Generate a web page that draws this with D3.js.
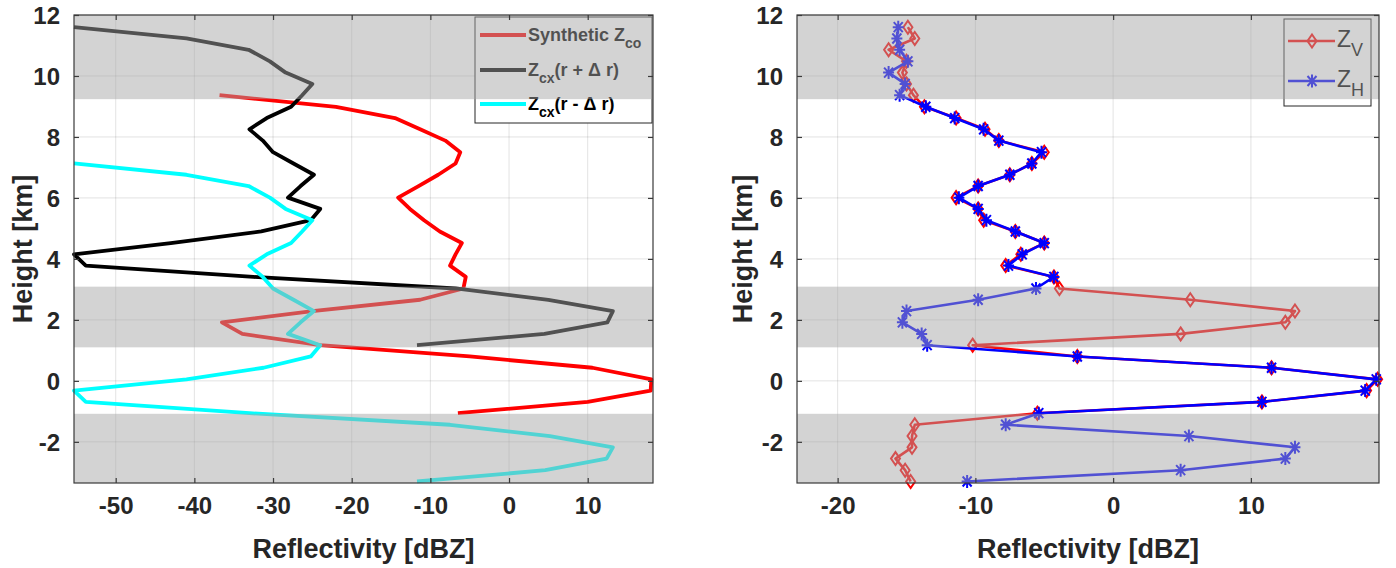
<!DOCTYPE html>
<html><head><meta charset="utf-8">
<script src="https://cdn.jsdelivr.net/npm/d3@7"></script>
<style>body{margin:0;background:#fff}svg{display:block}text{font-family:"Liberation Sans",Arial,Helvetica,sans-serif}</style>
</head><body><svg id="c" width="1396" height="568"></svg>
<script>
// ---------- data ----------
const heights = [11.60,11.23,10.86,10.48,10.11,9.74,9.37,8.99,8.62,8.25,7.88,7.50,7.13,6.76,6.39,6.01,5.64,5.27,4.90,4.52,4.15,3.78,3.41,3.03,2.66,2.29,1.92,1.54,1.17,0.80,0.43,0.05,-0.32,-0.69,-1.06,-1.44,-1.81,-2.18,-2.55,-2.93,-3.30];
// left panel (heights 9.37 .. -1.06)
const synthZco = [-36.8,-22.0,-14.5,-11.3,-8.1,-6.2,-6.8,-9.0,-11.5,-14.1,-12.6,-10.8,-8.8,-6.0,-6.8,-7.5,-5.5,-5.8,-11.3,-25.0,-36.5,-33.9,-24.0,-5.0,10.6,18.1,18.0,10.0,-6.5];
// heights 11.60 .. 1.17
const zcxPlus = [-55.3,-41.0,-33.1,-30.4,-28.4,-25.0,-26.3,-27.7,-30.8,-33.0,-31.3,-30.0,-27.4,-24.8,-26.5,-28.1,-24.0,-25.2,-31.5,-43.0,-55.3,-53.8,-32.5,-6.8,5.0,13.2,12.5,4.5,-11.7];
// heights 7.13 .. -3.30
const zcxMinus = [-55.3,-41.0,-33.1,-30.4,-28.4,-25.0,-26.3,-27.7,-30.8,-33.0,-31.3,-30.0,-27.4,-24.8,-26.5,-28.1,-24.0,-25.2,-31.2,-41.0,-55.3,-53.8,-33.0,-7.5,5.2,13.2,12.4,4.6,-11.7];
// right panel (all heights)
const zV = [-14.9,-14.4,-16.3,-15.0,-15.3,-15.0,-14.5,-13.7,-11.4,-9.3,-8.3,-5.0,-5.9,-7.5,-9.8,-11.4,-9.8,-9.4,-7.1,-5.0,-6.7,-7.8,-4.3,-3.9,5.6,13.2,12.5,4.9,-10.2,-2.6,11.5,19.2,18.4,10.8,-5.5,-14.4,-14.6,-14.6,-15.8,-15.1,-14.7];
const zH = [-15.6,-15.7,-15.5,-14.9,-16.3,-15.1,-15.5,-13.6,-11.5,-9.4,-8.3,-5.2,-5.9,-7.5,-9.8,-11.2,-9.8,-9.2,-7.1,-5.0,-6.6,-7.6,-4.3,-5.6,-9.8,-15.0,-15.3,-13.9,-13.5,-2.6,11.5,19.1,18.3,10.8,-5.4,-7.8,5.5,13.2,12.5,4.9,-10.6];
const leftXTicks = [-50,-40,-30,-20,-10,0,10];
const rightXTicks = [-20,-10,0,10];
const yTicks = [-2,0,2,4,6,8,10,12];
const bands = [[9.24,12],[1.1,3.09],[-3.35,-1.08]];
const leftNames = [["Synthetic Z","co",""],["Z","cx","(r + Δ r)"],["Z","cx","(r - Δ r)"]];
const rightNames = [["Z","V"],["Z","H"]];

// ---------- drawing ----------
const svg = d3.select("#c");
const AX = "#262626";

function panel(cfg){
  const g = svg.append("g");
  const x = d3.scaleLinear().domain(cfg.xd).range([cfg.x0,cfg.x1]);
  const y = d3.scaleLinear().domain([-3.35,12]).range([483,15]);
  // grid
  const grid = g.append("g");
  cfg.xt.forEach(t=>grid.append("line").attr("x1",x(t)).attr("x2",x(t)).attr("y1",15).attr("y2",483)
    .attr("stroke",AX).attr("stroke-opacity",0.13).attr("stroke-width",1));
  yTicks.forEach(t=>grid.append("line").attr("y1",y(t)).attr("y2",y(t)).attr("x1",cfg.x0).attr("x2",cfg.x1)
    .attr("stroke",AX).attr("stroke-opacity",0.13).attr("stroke-width",1));
  cfg.draw(g,x,y);
  cfg.legend(g);
  // bands (semi transparent, over data)
  bands.forEach(b=>g.append("rect").attr("x",cfg.x0).attr("width",cfg.x1-cfg.x0)
    .attr("y",y(b[1])).attr("height",y(b[0])-y(b[1])).attr("fill","#a5a5a5").attr("fill-opacity",0.49));
  // axes
  const ax = g.append("g");
  ax.append("rect").attr("x",cfg.x0).attr("y",15).attr("width",cfg.x1-cfg.x0).attr("height",468)
    .attr("fill","none").attr("stroke","#3a3a3a").attr("stroke-width",1.2);
  const bot = ax.append("g").attr("transform","translate(0,483)")
    .call(d3.axisBottom(x).tickValues(cfg.xt).tickSize(-5).tickFormat(d=>String(d)).tickPadding(14));
  const top = ax.append("g").attr("transform","translate(0,15)")
    .call(d3.axisTop(x).tickValues(cfg.xt).tickSize(-5).tickFormat(""));
  const lef = ax.append("g").attr("transform",`translate(${cfg.x0},0)`)
    .call(d3.axisLeft(y).tickValues(yTicks).tickSize(-5).tickFormat(d=>String(d)).tickPadding(14));
  const rig = ax.append("g").attr("transform",`translate(${cfg.x1},0)`)
    .call(d3.axisRight(y).tickValues(yTicks).tickSize(-5).tickFormat(""));
  [bot,top,lef,rig].forEach(a=>{a.select(".domain").remove();a.selectAll(".tick line").attr("stroke","#3a3a3a").attr("stroke-width",1.2);});
  [bot,lef].forEach(a=>a.selectAll(".tick text").attr("font-size",24).attr("font-weight","bold")
     .attr("fill",AX).style("font-family","'Liberation Sans',Arial,sans-serif"));
  lef.selectAll(".tick text").attr("dy","0.36em");
  bot.selectAll(".tick text").attr("dy","0.71em");
  // labels
  g.append("text").attr("x",(cfg.x0+cfg.x1)/2).attr("y",558).attr("text-anchor","middle")
    .attr("font-size",27).attr("font-weight","bold").attr("fill",AX).text("Reflectivity [dBZ]");
  g.append("text").attr("transform",`translate(${cfg.yl},249) rotate(-90)`).attr("text-anchor","middle")
    .attr("font-size",27).attr("font-weight","bold").attr("fill",AX).text("Height [km]");
}

// left panel
panel({x0:74,x1:653,xd:[-55.3,18.3],xt:leftXTicks,yl:32,
  draw:(g,x,y)=>{
    const series = [
      {v:synthZco,h:heights.slice(6,35),c:"#ff0000"},
      {v:zcxPlus,h:heights.slice(0,29),c:"#000000"},
      {v:zcxMinus,h:heights.slice(12,41),c:"#00ffff"}
    ];
    series.forEach(s=>{
      const pts = s.v.map((v,i)=>[v,s.h[i]]);
      g.append("path").attr("d",d3.line().x(d=>x(d[0])).y(d=>y(d[1]))(pts))
        .attr("fill","none").attr("stroke",s.c).attr("stroke-width",3.8).attr("stroke-linejoin","round");
    });
  },
  legend:(g)=>{
    const L = g.append("g");
    L.append("rect").attr("x",475).attr("y",17).attr("width",177).attr("height",106)
      .attr("fill","#fff").attr("stroke",AX).attr("stroke-width",1);
    const cols = ["#ff0000","#000000","#00ffff"];
    [35,70,104].forEach((ly,i)=>{
      L.append("line").attr("x1",480).attr("x2",526).attr("y1",ly).attr("y2",ly).attr("stroke",cols[i]).attr("stroke-width",3.8);
      const t = L.append("text").attr("x",528).attr("y",ly+6).attr("font-size",18).attr("font-weight","bold").attr("fill","#000");
      t.append("tspan").text(leftNames[i][0]);
      t.append("tspan").attr("font-size",14).attr("dy",7).text(leftNames[i][1]);
      if(leftNames[i][2]) t.append("tspan").attr("dy",-7).text(leftNames[i][2]);
    });
  }
});

// right panel
const diamond = "M0,-6.5L4.5,0L0,6.5L-4.5,0Z";
const star = "M0,-6.5L0,6.5M-5.5,0L5.5,0M-4.5,-5L4.5,5M-4.5,5L4.5,-5";
panel({x0:797,x1:1379,xd:[-22.95,19.3],xt:rightXTicks,yl:752,
  draw:(g,x,y)=>{
    const series = [{v:zV,c:"#ff0000",m:diamond},{v:zH,c:"#0000ff",m:star}];
    series.forEach(s=>{
      const pts = s.v.map((v,i)=>[v,heights[i]]);
      g.append("path").attr("d",d3.line().x(d=>x(d[0])).y(d=>y(d[1]))(pts))
        .attr("fill","none").attr("stroke",s.c).attr("stroke-width",2.6).attr("stroke-linejoin","round");
      g.selectAll(null).data(pts).enter().append("path")
        .attr("transform",d=>`translate(${x(d[0])},${y(d[1])})`).attr("d",s.m)
        .attr("fill","none").attr("stroke",s.c).attr("stroke-width",2);
    });
  },
  legend:(g)=>{
    const L = g.append("g");
    L.append("rect").attr("x",1284).attr("y",19).attr("width",87).attr("height",87)
      .attr("fill","#fff").attr("stroke",AX).attr("stroke-width",1);
    const cols = ["#ff0000","#0000ff"], ms=[diamond,star];
    [41,81].forEach((ly,i)=>{
      L.append("line").attr("x1",1288).attr("x2",1335).attr("y1",ly).attr("y2",ly).attr("stroke",cols[i]).attr("stroke-width",2.6);
      L.append("path").attr("transform",`translate(1312,${ly})`).attr("d",ms[i]).attr("fill","none").attr("stroke",cols[i]).attr("stroke-width",2);
      const t = L.append("text").attr("x",1337).attr("y",ly+6).attr("font-size",23).attr("fill","#000");
      t.append("tspan").text(rightNames[i][0]);
      t.append("tspan").attr("font-size",18).attr("dy",9).text(rightNames[i][1]);
    });
  }
});
</script></body></html>
